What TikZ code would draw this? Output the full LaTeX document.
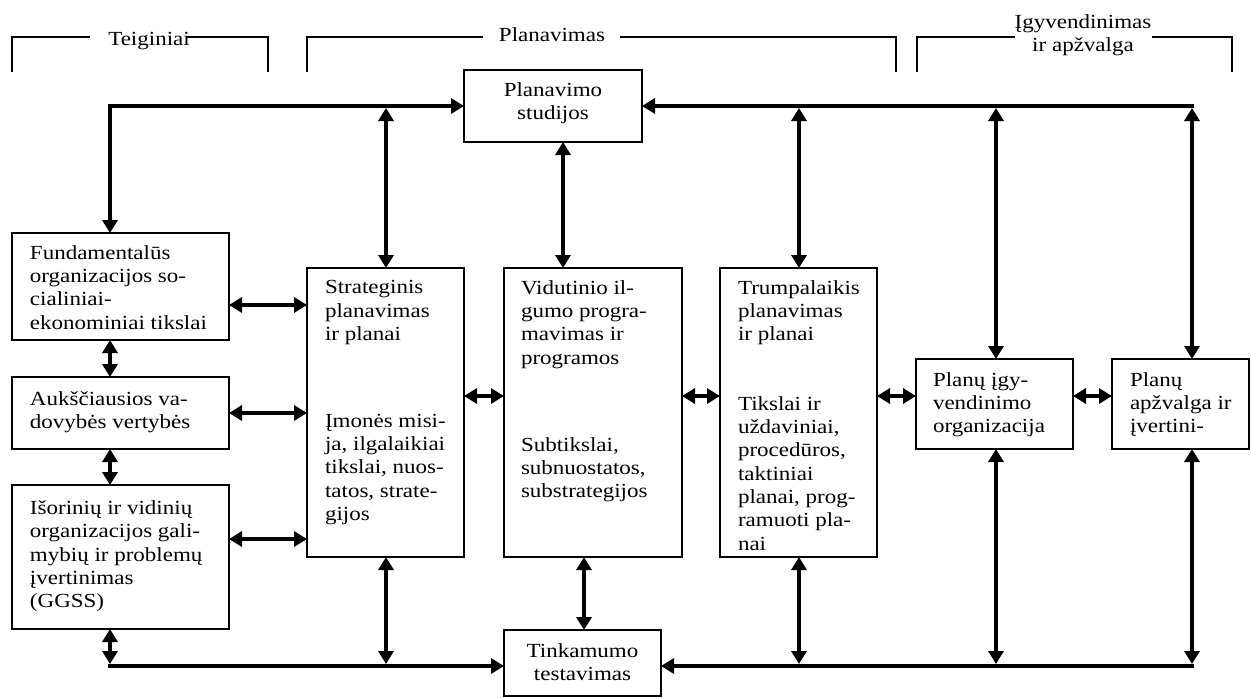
\documentclass[tikz,border=0pt]{standalone}
\usepackage{fontspec}
\setmainfont{Liberation Serif}[FakeStretch=1.15]
\usetikzlibrary{arrows.meta}
\begin{document}
\begin{tikzpicture}[x=1pt,y=-1pt,
  >={Triangle[length=13pt,width=15pt]},
  box/.style={draw, line width=1.4pt, inner sep=0pt, outer sep=0pt, anchor=north west},
  lbl/.style={inner sep=0pt, outer sep=0pt, anchor=north west, align=left,
              font=\fontsize{20}{23.3}\selectfont},
  head/.style={inner sep=0pt, outer sep=0pt, align=center,
               font=\fontsize{20}{23}\selectfont},
  link/.style={line width=4.8pt, ->},
  link2/.style={line width=4.8pt, <->},
  rim/.style={line width=1.4pt}]
\useasboundingbox (0,0) rectangle (1251,697);
\fill[white] (0,0) rectangle (1251,697);

% ---- group headings ----
\node[head, anchor=base] (hTeig) at (149,45) {Teiginiai};
\node[head, anchor=base] (hPlan) at (552,41) {Planavimas};
\node[head, anchor=north] (hIgy) at (1083,14.5) {Įgyvendinimas\\ir apžvalga};
\draw[rim] (12,72) -- (12,37) -- (90,37);
\draw[rim] (187,37) -- (268,37) -- (268,72);
\draw[rim] (307,72) -- (307,37) -- (483,37);
\draw[rim] (620,37) -- (896,37) -- (896,72);
\draw[rim] (917,72) -- (917,37) -- (1015,37);
\draw[rim] (1152,37) -- (1232,37) -- (1232,72);

% ---- boxes ----
\node[box, minimum width=178pt, minimum height=72pt] (study) at (464,70) {};
\node[head, anchor=north] (studyT) at (553,82.5) {Planavimo\\studijos};

\node[box, minimum width=217pt, minimum height=107pt] (fund) at (12,233) {};
\node[lbl] (fundT) at ([shift={(18,12.5)}]fund.north west)
  {Fundamentalūs\\organizacijos so-\\cialiniai-\\ekonominiai tikslai};

\node[box, minimum width=217pt, minimum height=72pt] (auk) at (12,377) {};
\node[lbl] (aukT) at ([shift={(18,14.5)}]auk.north west)
  {Aukščiausios va-\\dovybės vertybės};

\node[box, minimum width=217pt, minimum height=144pt] (isor) at (12,485) {};
\node[lbl] (isorT) at ([shift={(18,15.5)}]isor.north west)
  {Išorinių ir vidinių\\organizacijos gali-\\mybių ir problemų\\įvertinimas\\(GGSS)};

\node[box, minimum width=157pt, minimum height=289pt] (strat) at (307,268) {};
\node[lbl] (stratT) at ([shift={(18,12.5)}]strat.north west)
  {Strateginis\\planavimas\\ir planai\\[63.5pt]Įmonės misi-\\ja, ilgalaikiai\\tikslai, nuos-\\tatos, strate-\\gijos};

\node[box, minimum width=178pt, minimum height=289pt] (vid) at (504,268) {};
\node[lbl] (vidT) at ([shift={(17,12.5)}]vid.north west)
  {Vidutinio il-\\gumo progra-\\mavimas ir\\programos\\[63.5pt]Subtikslai,\\subnuostatos,\\substrategijos};

\node[box, minimum width=157pt, minimum height=289pt] (trump) at (720,268) {};
\node[lbl] (trumpT) at ([shift={(18,12.5)}]trump.north west)
  {Trumpalaikis\\planavimas\\ir planai\\[46pt]Tikslai ir\\uždaviniai,\\procedūros,\\taktiniai\\planai, prog-\\ramuoti pla-\\nai};

\node[box, minimum width=157pt, minimum height=90pt] (igy) at (916,359) {};
\node[lbl] (igyT) at ([shift={(17,13.5)}]igy.north west)
  {Planų įgy-\\vendinimo\\organizacija};

\node[box, minimum width=137pt, minimum height=90pt] (apz) at (1112,359) {};
\node[lbl] (apzT) at ([shift={(18,13.5)}]apz.north west)
  {Planų\\apžvalga ir\\įvertini-};

\node[box, minimum width=157pt, minimum height=66pt] (test) at (504,630) {};
\node[head, anchor=north] (testT) at (582.5,643.5) {Tinkamumo\\testavimas};

% ---- junctions of the two collecting lines ----
\coordinate (tl) at (110,106);
\coordinate (tr) at (1192,106);
\coordinate (tlv) at (0,108);
\coordinate (bl) at (110,666);
\coordinate (br) at (1192,666);
\coordinate (blv) at (0,664);
\coordinate (xs) at (386,0);
\coordinate (xv1) at (563,0);
\coordinate (xv2) at (584,0);
\coordinate (xt) at (799,0);
\coordinate (xi) at (996,0);
\coordinate (r1) at (0,305);
\coordinate (r2) at (0,413);
\coordinate (r3) at (0,539);
\coordinate (rm) at (0,396);

% ---- upper line ----
\draw[link2] (tl |- fund.north) -- (tl) -- (study.west |- tl);
\draw[link, line cap=rect] (tr) -- (study.east |- tr);
\draw[link2] (xs |- tlv) -- (xs |- strat.north);
\draw[link2] (xv1 |- study.south) -- (xv1 |- vid.north);
\draw[link2] (xt |- tlv) -- (xt |- trump.north);
\draw[link2] (xi |- tlv) -- (xi |- igy.north);
\draw[link2] (tr |- tlv) -- (tr |- apz.north);

% ---- left column ----
\draw[link2] (tl |- fund.south) -- (tl |- auk.north);
\draw[link2] (tl |- auk.south) -- (tl |- isor.north);
\draw[link2] (fund.east |- r1) -- (strat.west |- r1);
\draw[link2] (auk.east |- r2) -- (strat.west |- r2);
\draw[link2] (isor.east |- r3) -- (strat.west |- r3);

% ---- middle row ----
\draw[link2] (strat.east |- rm) -- (vid.west |- rm);
\draw[link2] (vid.east |- rm) -- (trump.west |- rm);
\draw[link2] (trump.east |- rm) -- (igy.west |- rm);
\draw[link2] (igy.east |- rm) -- (apz.west |- rm);

% ---- lower line ----
\draw[link2] (tl |- isor.south) -- (bl |- blv);
\draw[link, line cap=rect] (bl) -- (test.west |- bl);
\draw[link2] (xs |- strat.south) -- (xs |- blv);
\draw[link2] (xv2 |- vid.south) -- (xv2 |- test.north);
\draw[link2] (xt |- trump.south) -- (xt |- blv);
\draw[link2] (xi |- igy.south) -- (xi |- blv);
\draw[link2] (br |- apz.south) -- (br |- blv);
\draw[link, line cap=rect] (br) -- (test.east |- br);
\end{tikzpicture}
\end{document}
